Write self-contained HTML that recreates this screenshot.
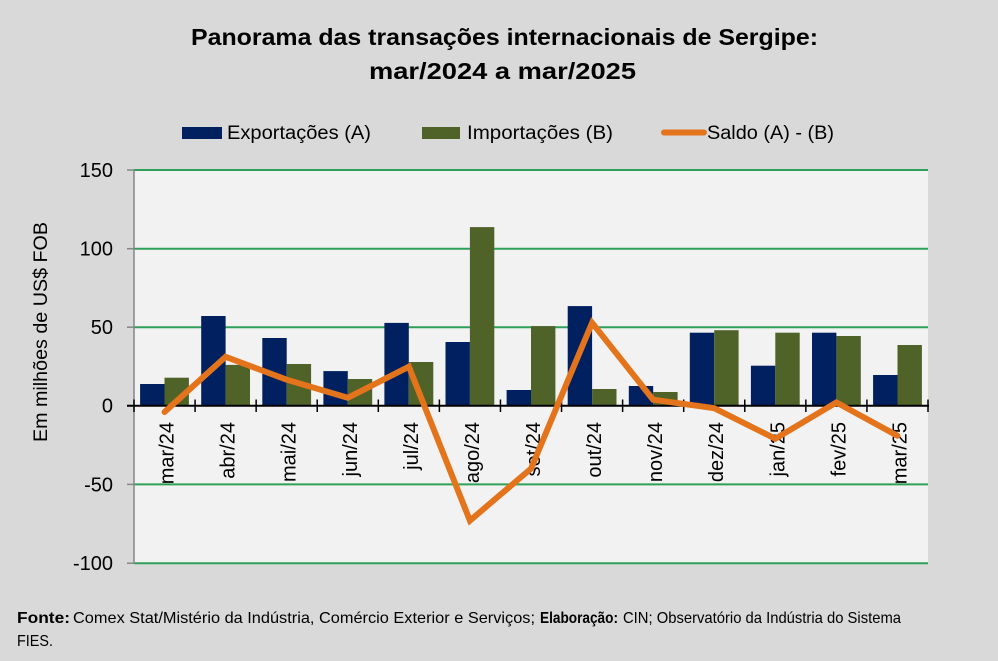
<!DOCTYPE html>
<html><head><meta charset="utf-8"><style>
html,body{margin:0;padding:0;background:#d9d9d9;}
svg{display:block;}
text{font-family:"Liberation Sans",sans-serif;fill:#000;}
</style></head><body>
<svg width="998" height="661" viewBox="0 0 998 661" xmlns="http://www.w3.org/2000/svg">
<rect x="0" y="0" width="998" height="661" fill="#d9d9d9"/>
<!-- title -->
<text x="504.5" y="45" text-anchor="middle" font-weight="bold" font-size="23.5" textLength="627" lengthAdjust="spacingAndGlyphs">Panorama  das transações internacionais de Sergipe:</text>
<text x="502.5" y="79" text-anchor="middle" font-weight="bold" font-size="23.5" textLength="267" lengthAdjust="spacingAndGlyphs">mar/2024 a mar/2025</text>
<!-- legend -->
<rect x="182" y="127" width="40" height="12" fill="#002060"/>
<text x="227" y="139" font-size="19" textLength="144" lengthAdjust="spacingAndGlyphs">Exportações (A)</text>
<rect x="422" y="127" width="38" height="12" fill="#4f6228"/>
<text x="467" y="139" font-size="19" textLength="146" lengthAdjust="spacingAndGlyphs">Importações (B)</text>
<line x1="664" y1="132.5" x2="704" y2="132.5" stroke="#e4741b" stroke-width="6" stroke-linecap="round"/>
<text x="707" y="139" font-size="19" textLength="127" lengthAdjust="spacingAndGlyphs">Saldo (A) - (B)</text>
<!-- plot area -->
<rect x="134" y="170" width="794" height="394" fill="#f2f2f2"/>
<g stroke="#2ea05a" stroke-width="2">
<line x1="134" y1="170" x2="928" y2="170"/>
<line x1="134" y1="248.7" x2="928" y2="248.7"/>
<line x1="134" y1="327.2" x2="928" y2="327.2"/>
<line x1="134" y1="484.4" x2="928" y2="484.4"/>
<line x1="134" y1="563.2" x2="928" y2="563.2"/>
</g>
<!-- y axis -->
<g stroke="#868686" stroke-width="1.5">
<line x1="134" y1="170" x2="134" y2="564"/>
<line x1="127" y1="170" x2="134" y2="170"/>
<line x1="127" y1="248.7" x2="134" y2="248.7"/>
<line x1="127" y1="327.2" x2="134" y2="327.2"/>
<line x1="127" y1="484.4" x2="134" y2="484.4"/>
<line x1="127" y1="563.2" x2="134" y2="563.2"/>
</g>
<g font-size="20" text-anchor="end">
<text x="113" y="177">150</text>
<text x="113" y="255.7">100</text>
<text x="113" y="334.2">50</text>
<text x="113" y="412.7">0</text>
<text x="113" y="491.4">-50</text>
<text x="113" y="570.2">-100</text>
</g>
<text transform="translate(47,332) rotate(-90)" text-anchor="middle" font-size="19" textLength="220" lengthAdjust="spacingAndGlyphs">Em milhões de US$ FOB</text>
<!-- bars A -->
<g fill="#002060">
<rect x="140.1" y="384.0" width="24.4" height="21.7"/>
<rect x="201.2" y="316.0" width="24.4" height="89.7"/>
<rect x="262.3" y="338.0" width="24.4" height="67.7"/>
<rect x="323.4" y="371.1" width="24.4" height="34.6"/>
<rect x="384.4" y="322.9" width="24.4" height="82.8"/>
<rect x="445.5" y="342.0" width="24.4" height="63.7"/>
<rect x="506.6" y="390.0" width="24.4" height="15.7"/>
<rect x="567.7" y="306.1" width="24.4" height="99.6"/>
<rect x="628.8" y="386.0" width="24.4" height="19.7"/>
<rect x="689.8" y="332.7" width="24.4" height="73.0"/>
<rect x="750.9" y="365.7" width="24.4" height="40.0"/>
<rect x="812.0" y="332.7" width="24.4" height="73.0"/>
<rect x="873.1" y="375.0" width="24.4" height="30.7"/>
</g>
<!-- bars B -->
<g fill="#4f6228">
<rect x="164.5" y="377.7" width="24.4" height="28.0"/>
<rect x="225.6" y="364.9" width="24.4" height="40.8"/>
<rect x="286.7" y="364.0" width="24.4" height="41.7"/>
<rect x="347.8" y="379.0" width="24.4" height="26.7"/>
<rect x="408.9" y="362.0" width="24.4" height="43.7"/>
<rect x="469.9" y="227.1" width="24.4" height="178.6"/>
<rect x="531.0" y="326.1" width="24.4" height="79.6"/>
<rect x="592.1" y="389.0" width="24.4" height="16.7"/>
<rect x="653.2" y="392.0" width="24.4" height="13.7"/>
<rect x="714.2" y="330.2" width="24.4" height="75.5"/>
<rect x="775.3" y="332.7" width="24.4" height="73.0"/>
<rect x="836.4" y="336.0" width="24.4" height="69.7"/>
<rect x="897.5" y="345.0" width="24.4" height="60.7"/>
</g>
<!-- x axis -->
<line x1="127" y1="405.7" x2="929" y2="405.7" stroke="#000" stroke-width="2"/>
<g stroke="#000" stroke-width="1.5">
<line x1="134" y1="399.5" x2="134" y2="412"/>
<line x1="195.08" y1="399.5" x2="195.08" y2="412"/>
<line x1="256.15" y1="399.5" x2="256.15" y2="412"/>
<line x1="317.23" y1="399.5" x2="317.23" y2="412"/>
<line x1="378.31" y1="399.5" x2="378.31" y2="412"/>
<line x1="439.38" y1="399.5" x2="439.38" y2="412"/>
<line x1="500.46" y1="399.5" x2="500.46" y2="412"/>
<line x1="561.54" y1="399.5" x2="561.54" y2="412"/>
<line x1="622.62" y1="399.5" x2="622.62" y2="412"/>
<line x1="683.69" y1="399.5" x2="683.69" y2="412"/>
<line x1="744.77" y1="399.5" x2="744.77" y2="412"/>
<line x1="805.85" y1="399.5" x2="805.85" y2="412"/>
<line x1="866.92" y1="399.5" x2="866.92" y2="412"/>
<line x1="928" y1="399.5" x2="928" y2="412"/>
</g>
<!-- x labels -->
<g font-size="20" text-anchor="end">
<text transform="translate(173.5,422) rotate(-90)">mar/24</text>
<text transform="translate(234.6,422) rotate(-90)">abr/24</text>
<text transform="translate(295.7,422) rotate(-90)">mai/24</text>
<text transform="translate(356.8,422) rotate(-90)">jun/24</text>
<text transform="translate(417.8,422) rotate(-90)">jul/24</text>
<text transform="translate(478.9,422) rotate(-90)">ago/24</text>
<text transform="translate(540.0,422) rotate(-90)">set/24</text>
<text transform="translate(601.1,422) rotate(-90)">out/24</text>
<text transform="translate(662.2,422) rotate(-90)">nov/24</text>
<text transform="translate(723.2,422) rotate(-90)">dez/24</text>
<text transform="translate(784.3,422) rotate(-90)">jan/25</text>
<text transform="translate(845.4,422) rotate(-90)">fev/25</text>
<text transform="translate(906.5,422) rotate(-90)">mar/25</text>
</g>
<!-- saldo line -->
<polyline fill="none" stroke="#e4741b" stroke-width="6" stroke-linecap="round" stroke-linejoin="miter" stroke-miterlimit="10"
points="164.54,412.0 225.62,356.8 286.69,379.7 347.77,397.8 408.85,366.7 469.92,520.6 531.0,468.6 592.08,322.8 653.15,399.7 714.23,408.2 775.31,438.7 836.38,402.4 897.46,435.8"/>
<!-- footer -->
<text x="17" y="623" font-size="16" font-weight="bold" textLength="53" lengthAdjust="spacingAndGlyphs">Fonte:</text>
<text x="73" y="623" font-size="16" textLength="462" lengthAdjust="spacingAndGlyphs">Comex Stat/Mistério da Indústria, Comércio Exterior e Serviços;</text>
<text x="540" y="623" font-size="16" font-weight="bold" textLength="78" lengthAdjust="spacingAndGlyphs">Elaboração:</text>
<text x="623" y="623" font-size="16" textLength="278" lengthAdjust="spacingAndGlyphs">CIN; Observatório da Indústria do Sistema</text>
<text x="17" y="646" font-size="16" textLength="36" lengthAdjust="spacingAndGlyphs">FIES.</text>
</svg>
</body></html>
